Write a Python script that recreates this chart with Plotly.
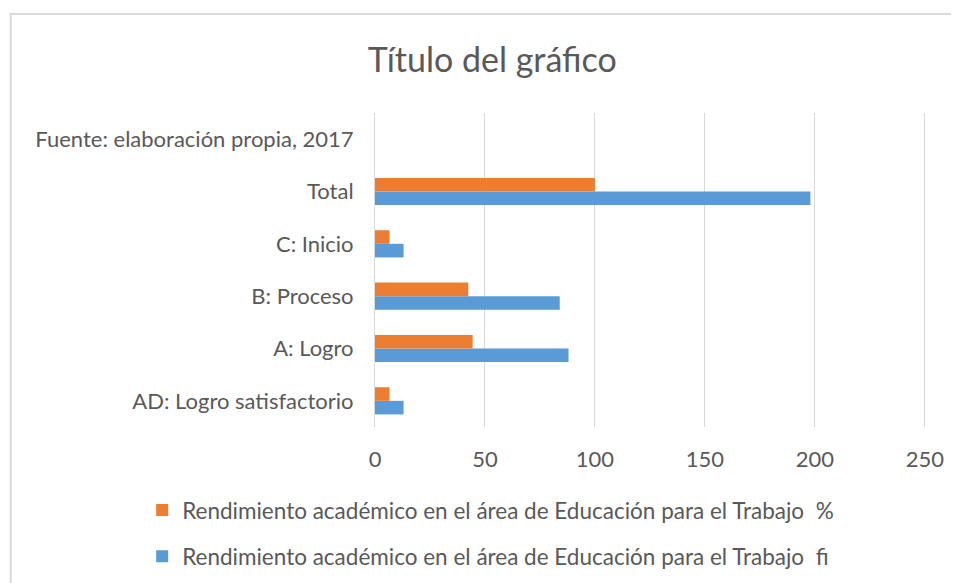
import plotly.graph_objects as go

categorias = ["AD: Logro satisfactorio", "A: Logro", "B: Proceso", "C: Inicio", "Total",
              "Fuente: elaboración propia, 2017"]
fi = [13, 88, 84, 13, 198, None]
porcentaje = [6.6, 44.4, 42.4, 6.6, 100, None]
ticks_x = [0, 50, 100, 150, 200, 250]

nombre_fi = "Rendimiento académico en el área de Educación para el Trabajo  fi"
nombre_pct = "Rendimiento académico en el área de Educación para el Trabajo  %"

gris = "#595959"
fuente = "Lato"

fig = go.Figure()
fig.add_trace(go.Bar(y=categorias, x=fi, orientation="h", name=nombre_fi,
                     marker=dict(color="#5B9BD5", line=dict(width=0)),
                     legendgroup="fi", legendrank=2))
fig.add_trace(go.Bar(y=categorias, x=porcentaje, orientation="h", name=nombre_pct,
                     marker=dict(color="#ED7D31", line=dict(width=0)),
                     legendgroup="pct", legendrank=1))

fig.update_layout(
    width=959, height=583,
    margin=dict(l=367, r=40, t=105, b=164),
    paper_bgcolor="white", plot_bgcolor="white",
    barmode="group", bargap=0.48, bargroupgap=0,
    font=dict(family=fuente, color=gris, size=22),
    title=dict(text="Título del gráfico", x=0.505, xanchor="center", y=0.911, yanchor="middle",
               font=dict(family=fuente, size=34, color=gris)),
    legend=dict(x=-0.4218, xanchor="left", y=-0.197, yanchor="top", traceorder="grouped",
                tracegroupgap=14, font=dict(size=22.5, color=gris), itemwidth=30),
    showlegend=True,
)
fig.update_xaxes(range=[0, 251], tickvals=ticks_x, showgrid=True, gridcolor="#d9d9d9", gridwidth=1,
                 zeroline=False, showline=False, ticks="", ticklabelstandoff=17, fixedrange=True)
fig.update_yaxes(categoryorder="array", categoryarray=categorias, showgrid=False, showline=True,
                 linecolor="#d9d9d9", linewidth=1, ticks="", ticklabelstandoff=16, fixedrange=True)

# marco del gráfico (sale por la derecha y abajo como en la captura)
fig.add_shape(type="rect", xref="paper", yref="paper", x0=-0.66, y0=-1.0, x1=2.0, y1=1.315,
              line=dict(color="#d9d9d9", width=2), layer="below")

fig.write_html("out.html")
